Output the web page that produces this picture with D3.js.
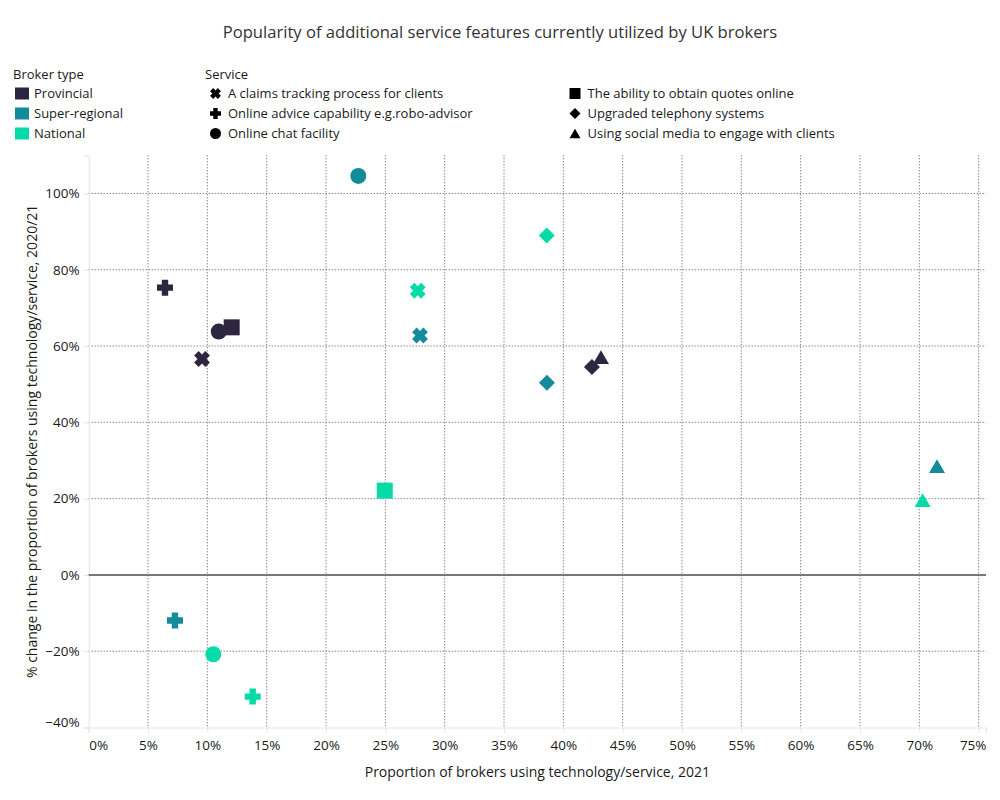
<!DOCTYPE html>
<html>
<head>
<meta charset="utf-8">
<script src="https://cdn.jsdelivr.net/npm/d3@7"></script>
<style>
  body { margin: 0; background: #fff; }
  svg { display: block; font-family: "Open Sans", "Noto Sans", sans-serif; }
</style>
</head>
<body>
<svg id="chart" width="1000" height="800"></svg>
<script>
// ---- data ----
const brokerTypes = ["Provincial", "Super-regional", "National"];
const brokerColors = ["#2c2641", "#138b9b", "#05dba6"];
const services = [
  "A claims tracking process for clients",
  "Online advice capability e.g.robo-advisor",
  "Online chat facility",
  "The ability to obtain quotes online",
  "Upgraded telephony systems",
  "Using social media to engage with clients"
];
const serviceShapes = ["x", "plus", "circle", "square", "diamond", "triangle"];

// proportion using (2021) and % change 2020/21, per broker type, per service (null = not shown)
const provincialX = [0.0955, 0.0643, 0.1096, 0.1205, 0.4241, 0.4317];
const provincialY = [0.566, 0.753, 0.638, 0.649, 0.545, 0.571];
const superRegionalX = [0.2792, 0.0727, 0.2272, null, 0.3862, 0.7149];
const superRegionalY = [0.6275, -0.1195, 1.046, null, 0.504, 0.285];
const nationalX = [0.2773, 0.1382, 0.1050, 0.2495, 0.3860, 0.7028];
const nationalY = [0.745, -0.319, -0.208, 0.221, 0.890, 0.196];

const xTicks = [0, 0.05, 0.10, 0.15, 0.20, 0.25, 0.30, 0.35, 0.40, 0.45, 0.50, 0.55, 0.60, 0.65, 0.70, 0.75];
const yTicks = [-0.4, -0.2, 0, 0.2, 0.4, 0.6, 0.8, 1.0];

const chartTitle = "Popularity of additional service features currently utilized by UK brokers";
const xTitle = "Proportion of brokers using technology/service, 2021";
const yTitle = "% change in the proportion of brokers using technology/service, 2020/21";

// ---- build points ----
const seriesX = [provincialX, superRegionalX, nationalX];
const seriesY = [provincialY, superRegionalY, nationalY];
const points = [];
brokerTypes.forEach((b, bi) => {
  services.forEach((s, si) => {
    const xv = seriesX[bi][si], yv = seriesY[bi][si];
    if (xv == null || yv == null) return;
    points.push({ broker: b, service: s, x: xv, y: yv });
  });
});

// ---- custom symbols (vega-like) ----
const symPlus = {
  draw(ctx, size) {
    const r = Math.sqrt(size) / 2, s = r / 2.5;
    ctx.moveTo(-r, -s); ctx.lineTo(-r, s); ctx.lineTo(-s, s); ctx.lineTo(-s, r);
    ctx.lineTo(s, r); ctx.lineTo(s, s); ctx.lineTo(r, s); ctx.lineTo(r, -s);
    ctx.lineTo(s, -s); ctx.lineTo(s, -r); ctx.lineTo(-s, -r); ctx.lineTo(-s, -s);
    ctx.closePath();
  }
};
const symX = {
  draw(ctx, size) {
    const r = Math.sqrt(size) / 2, s = r / 2.5;
    const pts = [[-r,-s],[-r,s],[-s,s],[-s,r],[s,r],[s,s],[r,s],[r,-s],[s,-s],[s,-r],[-s,-r],[-s,-s]];
    const c = Math.SQRT1_2;
    pts.forEach((p, i) => {
      const px = (p[0] - p[1]) * c, py = (p[0] + p[1]) * c;
      if (i === 0) ctx.moveTo(px, py); else ctx.lineTo(px, py);
    });
    ctx.closePath();
  }
};
const symCircle = {
  draw(ctx, size) { const r = Math.sqrt(size) / 2; ctx.moveTo(r, 0); ctx.arc(0, 0, r, 0, 2 * Math.PI); }
};
const symSquare = {
  draw(ctx, size) { const r = Math.sqrt(size) / 2; ctx.rect(-r, -r, 2 * r, 2 * r); }
};
const symDiamond = {
  draw(ctx, size) {
    const r = Math.sqrt(size) / 2;
    ctx.moveTo(-r, 0); ctx.lineTo(0, -r); ctx.lineTo(r, 0); ctx.lineTo(0, r); ctx.closePath();
  }
};
const symTriangle = {
  draw(ctx, size) {
    const r = Math.sqrt(size) / 2, h = Math.sqrt(3) / 2 * r;
    ctx.moveTo(0, -h); ctx.lineTo(-r, h); ctx.lineTo(r, h); ctx.closePath();
  }
};
const shapeMap = { x: symX, plus: symPlus, circle: symCircle, square: symSquare, diamond: symDiamond, triangle: symTriangle };

// ---- scales ----
const plotLeft = 88.7, plotRight = 986, plotTop = 155.3, plotBottom = 727.5;
const xScale = d3.scaleLinear().domain([0, 0.7562]).range([plotLeft, plotRight]);
const yScale = d3.scaleLinear().domain([-0.4, 1.1]).range([plotBottom, plotTop]);
const color = d3.scaleOrdinal().domain(brokerTypes).range(brokerColors);
const shape = d3.scaleOrdinal().domain(services).range(serviceShapes.map(k => shapeMap[k]));
const pct = d3.format(".0%");

const svg = d3.select("#chart");
const textColor = "#1a1a1a";

// title
svg.append("text").attr("x", 500).attr("y", 38).attr("text-anchor", "middle")
  .attr("font-size", 16.6).attr("fill", "#333").text(chartTitle);

// grid
const grid = svg.append("g");
grid.selectAll("line.vx").data(xTicks.filter(t => t > 0)).join("line")
  .attr("x1", d => xScale(d)).attr("x2", d => xScale(d)).attr("y1", plotTop).attr("y2", plotBottom)
  .attr("stroke", "#555").attr("stroke-width", 1).attr("stroke-dasharray", "1,2");
grid.selectAll("line.hy").data(yTicks.filter(t => t > -0.4 && t !== 0)).join("line")
  .attr("x1", plotLeft).attr("x2", plotRight).attr("y1", d => yScale(d)).attr("y2", d => yScale(d))
  .attr("stroke", "#555").attr("stroke-width", 1).attr("stroke-dasharray", "1,2");

// axes
const xAxis = svg.append("g").attr("transform", `translate(0,${plotBottom})`)
  .call(d3.axisBottom(xScale).tickValues(xTicks).tickFormat(pct).tickSize(5).tickPadding(8));
const yAxis = svg.append("g").attr("transform", `translate(${plotLeft},0)`)
  .call(d3.axisLeft(yScale).tickValues(yTicks).tickFormat(pct).tickSize(5).tickPadding(4));
[xAxis, yAxis].forEach(a => {
  a.select(".domain").attr("stroke", "#e4e4e4");
  a.selectAll(".tick line").attr("stroke", "#e4e4e4");
  a.selectAll(".tick text").attr("font-size", 13.5).attr("fill", textColor)
    .attr("font-family", "\"Open Sans\", sans-serif");
});
// flush first/last labels
xAxis.selectAll(".tick text").filter(d => d === 0).attr("text-anchor", "start").attr("x", 0);
xAxis.selectAll(".tick text").filter(d => d === 0.75).attr("text-anchor", "end").attr("x", plotRight - xScale(0.75));
yAxis.selectAll(".tick text").filter(d => d === -0.4).attr("dy", "-0.1em");

// zero rule
svg.append("line").attr("x1", plotLeft).attr("x2", plotRight).attr("y1", yScale(0)).attr("y2", yScale(0))
  .attr("stroke", "#777").attr("stroke-width", 2);

// axis titles
svg.append("text").attr("x", (plotLeft + plotRight) / 2).attr("y", 777).attr("text-anchor", "middle")
  .attr("font-size", 14).attr("fill", textColor).text(xTitle);
svg.append("text").attr("transform", `translate(37,${(plotTop + plotBottom) / 2}) rotate(-90)`)
  .attr("text-anchor", "middle").attr("font-size", 14).attr("fill", textColor).text(yTitle);

// points
svg.append("g").selectAll("path").data(points).join("path")
  .attr("transform", d => `translate(${xScale(d.x)},${yScale(d.y)})`)
  .attr("d", d => d3.symbol().type(shape(d.service)).size(256)())
  .attr("fill", d => color(d.broker));

// legends
const lg = svg.append("g").attr("font-size", 13).attr("fill", textColor);
lg.append("text").attr("x", 13).attr("y", 79).text("Broker type");
brokerTypes.forEach((b, i) => {
  const cy = 93.5 + i * 20;
  lg.append("rect").attr("x", 15).attr("y", cy - 6).attr("width", 14).attr("height", 12).attr("fill", color(b));
  lg.append("text").attr("x", 34).attr("y", cy + 4.5).text(b);
});
lg.append("text").attr("x", 205).attr("y", 79).text("Service");
services.forEach((s, i) => {
  const col = Math.floor(i / 3), row = i % 3;
  const cx = col === 0 ? 215.5 : 575, cy = 93.5 + row * 20;
  lg.append("path").attr("transform", `translate(${cx},${cy})`)
    .attr("d", d3.symbol().type(shape(s)).size(121)()).attr("fill", "#000");
  lg.append("text").attr("x", cx + 12.5).attr("y", cy + 4.5).text(s);
});
</script>
</body>
</html>
